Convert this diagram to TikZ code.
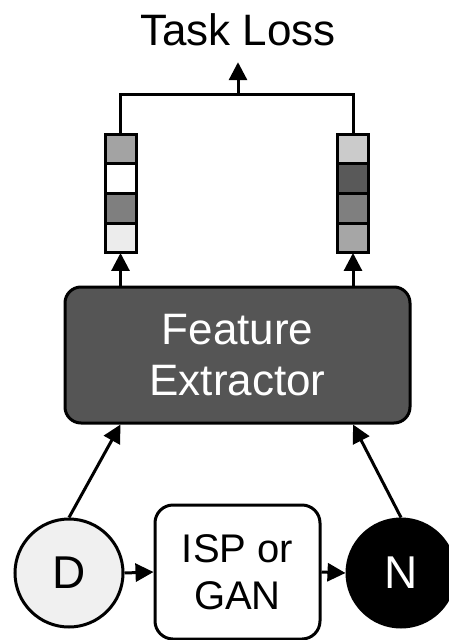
\documentclass[tikz,border=0pt]{standalone}
\usepackage{fontspec}
\setmainfont{Liberation Sans}
\usetikzlibrary{arrows.meta}
\definecolor{feg}{HTML}{555555}
\definecolor{dg}{HTML}{F0F0F0}
\definecolor{ca}{HTML}{A3A3A3}
\definecolor{cb}{HTML}{FFFFFF}
\definecolor{cc}{HTML}{7F7F7F}
\definecolor{cd}{HTML}{ECECEC}
\definecolor{ce}{HTML}{CBCBCB}
\definecolor{cf}{HTML}{595959}
\definecolor{cg}{HTML}{A6A6A6}
\tikzset{
  lw/.style={line width=3pt},
  arr/.style={lw,-{Triangle[length=18pt,width=18pt]}},
  cell/.style={draw,lw,minimum width=31pt,minimum height=29.75pt,inner sep=0pt,outer sep=0pt},
  bigtxt/.style={font=\fontsize{44}{51}\selectfont},
}
\begin{document}
\begin{tikzpicture}[x=1pt,y=-1pt]
\useasboundingbox (0,0) rectangle (449,640);
% task loss
\node[bigtxt,anchor=base,inner ysep=17pt,inner xsep=0pt,text depth=0pt] (loss) at (238,45) {Task Loss};
% vectors
\node[cell,fill=ca] (l1) at (120.5,148.9) {};
\node[cell,fill=cb] (l2) at (120.5,178.6) {};
\node[cell,fill=cc] (l3) at (120.5,208.4) {};
\node[cell,fill=cd] (l4) at (120.5,238.1) {};
\node[cell,fill=ce] (r1) at (353,148.9) {};
\node[cell,fill=cf] (r2) at (353,178.6) {};
\node[cell,fill=cc] (r3) at (353,208.4) {};
\node[cell,fill=cg] (r4) at (353,238.1) {};
\coordinate (jn) at (238,94);
\draw[lw] (l1.north) |- (jn) -| (r1.north);
\draw[arr] (jn) -- (loss.south);
% feature extractor
\node[draw,lw,fill=feg,rounded corners=16pt,minimum width=345pt,minimum height=136pt,
      text=white,bigtxt,align=center,inner sep=0pt] (fe) at (237.5,355) {Feature\\Extractor};
\draw[arr] (fe.north -| l4.south) -- (l4.south);
\draw[arr] (fe.north -| r4.south) -- (r4.south);
% bottom
\node[draw,lw,circle,fill=dg,minimum size=108pt,inner sep=0pt,font=\fontsize{46}{50}\selectfont] (d) at (69,573) {D};
\node[draw,lw,circle,fill=black,text=white,minimum size=108pt,inner sep=0pt,font=\fontsize{46}{50}\selectfont] (n) at (401,573) {N};
\node[draw,lw,fill=white,rounded corners=18pt,minimum width=165pt,minimum height=134pt,align=center,
      inner sep=0pt,font=\fontsize{40}{47}\selectfont] (isp) at (237.5,572) {ISP or\\GAN};
\draw[arr] (d.east) -- (isp.west);
\draw[arr] (isp.east) -- (n.west);
\draw[arr] (d.north) -- (fe.south -| l4.south);
\draw[arr] (n.north) -- (fe.south -| r4.south);
\end{tikzpicture}
\end{document}
